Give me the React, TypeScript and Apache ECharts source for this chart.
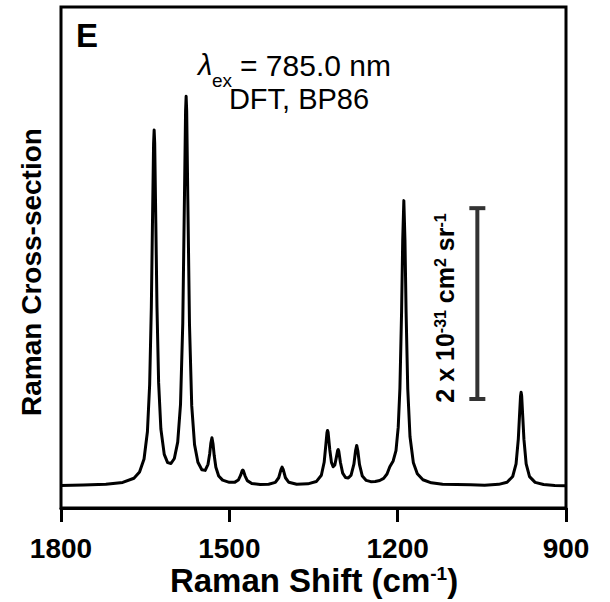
import React, { useEffect, useRef } from "react";
import * as echarts from "echarts";

// Raman shift (cm^-1) sampled along the traced spectrum
const shift = [
  1800, 1760, 1720, 1690, 1670, 1660, 1652, 1646, 1642, 1639, 1637, 1635, 1634, 1633, 1631, 1629, 1626, 1622,
  1616, 1610, 1604, 1598, 1592, 1587, 1583, 1580, 1578, 1577, 1576, 1574, 1571, 1567, 1562, 1556, 1549, 1543,
  1538, 1535, 1533, 1531, 1529, 1527, 1524, 1519, 1512, 1500, 1490, 1484, 1480, 1477, 1476, 1475, 1472, 1468,
  1460, 1445, 1430, 1418, 1412, 1408, 1406, 1404, 1400, 1394, 1380, 1360, 1345, 1336, 1331, 1328, 1326, 1325,
  1324, 1321, 1318, 1315, 1312, 1309, 1307, 1306, 1305, 1302, 1298, 1293, 1288, 1283, 1278, 1275, 1273, 1271,
  1268, 1263, 1256, 1248, 1240, 1232, 1225, 1219, 1214, 1208, 1203, 1199, 1196, 1193, 1191, 1189, 1187, 1185,
  1182, 1178, 1172, 1165, 1155, 1140, 1120, 1095, 1070, 1045, 1020, 1005, 995, 989, 985, 983, 981, 980, 979,
  977, 975, 971, 965, 955, 940, 920, 900,
];

// Raman cross-section (units of 1e-31 cm^2 sr^-1)
const crossSection = [
  0.006, 0.01, 0.018, 0.038, 0.082, 0.147, 0.284, 0.569, 1.063, 1.876, 2.748, 3.589, 3.731, 3.591, 2.756, 1.888, 1.081, 0.598,
  0.332, 0.246, 0.236, 0.289, 0.46, 0.856, 1.701, 3.016, 3.931, 4.084, 3.93, 3.011, 1.691, 0.84, 0.434, 0.25, 0.171, 0.164,
  0.228, 0.339, 0.448, 0.507, 0.44, 0.322, 0.197, 0.106, 0.062, 0.039, 0.041, 0.063, 0.111, 0.162, 0.168, 0.161, 0.107, 0.057,
  0.027, 0.017, 0.019, 0.038, 0.087, 0.173, 0.199, 0.174, 0.087, 0.039, 0.019, 0.023, 0.047, 0.113, 0.249, 0.431, 0.56, 0.583,
  0.564, 0.381, 0.248, 0.202, 0.221, 0.308, 0.373, 0.383, 0.367, 0.247, 0.136, 0.09, 0.084, 0.114, 0.229, 0.372, 0.426, 0.37,
  0.225, 0.105, 0.059, 0.046, 0.047, 0.058, 0.081, 0.126, 0.203, 0.263, 0.371, 0.617, 1.023, 1.831, 2.581, 2.991, 2.578, 1.826,
  1.014, 0.516, 0.243, 0.128, 0.066, 0.034, 0.018, 0.015, 0.013, 0.009, 0.018, 0.04, 0.1, 0.233, 0.492, 0.722, 0.945, 0.982, 0.945,
  0.721, 0.491, 0.232, 0.099, 0.039, 0.016, 0.007, 0.004,
];

const xTicks = [1800, 1500, 1200, 900];
// scale bar: 2 x 10^-31 cm^2 sr^-1
const scaleBarShift = [1058, 1058];
const scaleBarValue = [0.912, 2.912];

const FONT = "'Liberation Sans', Arial, Helvetica, sans-serif";

export default function App() {
  const ref = useRef<HTMLDivElement>(null);

  useEffect(() => {
    if (!ref.current) return;
    const chart = echarts.init(ref.current, undefined, { renderer: "svg" });
    const data = shift.map((s, i) => [s, crossSection[i]]);
    const bar = scaleBarShift.map((s, i) => [s, scaleBarValue[i]]);

    const txt = (extra: any) => ({
      fontFamily: FONT,
      fill: "#000",
      align: "left",
      verticalAlign: "middle",
      textAlign: "left",
      textVerticalAlign: "middle",
      ...extra,
    });

    chart.setOption({
      animation: false,
      backgroundColor: "#fff",
      grid: {
        left: 61,
        right: 44,
        top: 7,
        bottom: 94,
        show: true,
        borderColor: "#000",
        borderWidth: 3,
        backgroundColor: "transparent",
      },
      xAxis: {
        type: "value",
        min: 900,
        max: 1800,
        interval: 300,
        inverse: true,
        axisLine: { show: true, onZero: false, lineStyle: { color: "#000", width: 3 } },
        axisTick: { show: true, inside: false, length: 14, lineStyle: { color: "#000", width: 3 } },
        axisLabel: {
          show: true,
          color: "#000",
          fontFamily: FONT,
          fontSize: 28,
          fontWeight: "bold",
          lineHeight: 24,
          margin: 28,
          showMinLabel: true,
          showMaxLabel: true,
          formatter: (v: number) => (xTicks.includes(v) ? String(v) : ""),
        },
        splitLine: { show: false },
      },
      yAxis: {
        type: "value",
        min: -0.23,
        max: 5.02,
        axisLine: { show: false },
        axisTick: { show: false },
        axisLabel: { show: false },
        splitLine: { show: false },
      },
      series: [
        {
          type: "line",
          data,
          symbol: "none",
          showSymbol: false,
          smooth: false,
          lineStyle: { color: "#000", width: 3, join: "round" },
          z: 3,
        },
        {
          type: "line",
          data: bar,
          symbol: "rect",
          symbolSize: [16, 4],
          showSymbol: true,
          showAllSymbol: true,
          itemStyle: { color: "#333" },
          lineStyle: { color: "#333", width: 4 },
          z: 2,
        },
      ],
      graphic: [
        { type: "text", x: 76, y: 35, style: txt({ text: "E", fontSize: 33, fontWeight: "bold" }) },
        { type: "text", x: 198, y: 65, style: txt({ text: "λ", fontSize: 29, fontStyle: "italic" }) },
        { type: "text", x: 212, y: 80, style: txt({ text: "ex", fontSize: 19 }) },
        { type: "text", x: 240, y: 65, style: txt({ text: "= 785.0 nm", fontSize: 30 }) },
        {
          type: "text",
          x: 299,
          y: 99,
          style: txt({ text: "DFT, BP86", fontSize: 29, align: "center", textAlign: "center" }),
        },
        {
          type: "text",
          x: 31,
          y: 272,
          rotation: Math.PI / 2,
          style: txt({
            text: "Raman Cross-section",
            fontSize: 28,
            fontWeight: "bold",
            align: "center",
            textAlign: "center",
          }),
        },
        {
          type: "text",
          x: 314,
          y: 580,
          style: txt({
            text: "Raman Shift (cm{sup|-1})",
            fontSize: 33,
            fontWeight: "bold",
            align: "center",
            textAlign: "center",
            rich: {
              sup: { fontFamily: FONT, fontSize: 19, fontWeight: "bold", fill: "#000", verticalAlign: "top", lineHeight: 19 },
            },
          }),
        },
        {
          type: "text",
          x: 445,
          y: 308,
          rotation: Math.PI / 2,
          style: txt({
            text: "2 x 10{sup|-31} cm{sup|2} sr{sup|-1}",
            fontSize: 25,
            fontWeight: "bold",
            align: "center",
            textAlign: "center",
            rich: {
              sup: { fontFamily: FONT, fontSize: 16, fontWeight: "bold", fill: "#000", verticalAlign: "top", lineHeight: 16 },
            },
          }),
        },
      ],
    });

    return () => {
      chart.dispose();
    };
  }, []);

  return (
    <div
      ref={ref}
      style={{ position: "fixed", left: 0, top: 0, width: 610, height: 602, background: "#fff" }}
    />
  );
}
